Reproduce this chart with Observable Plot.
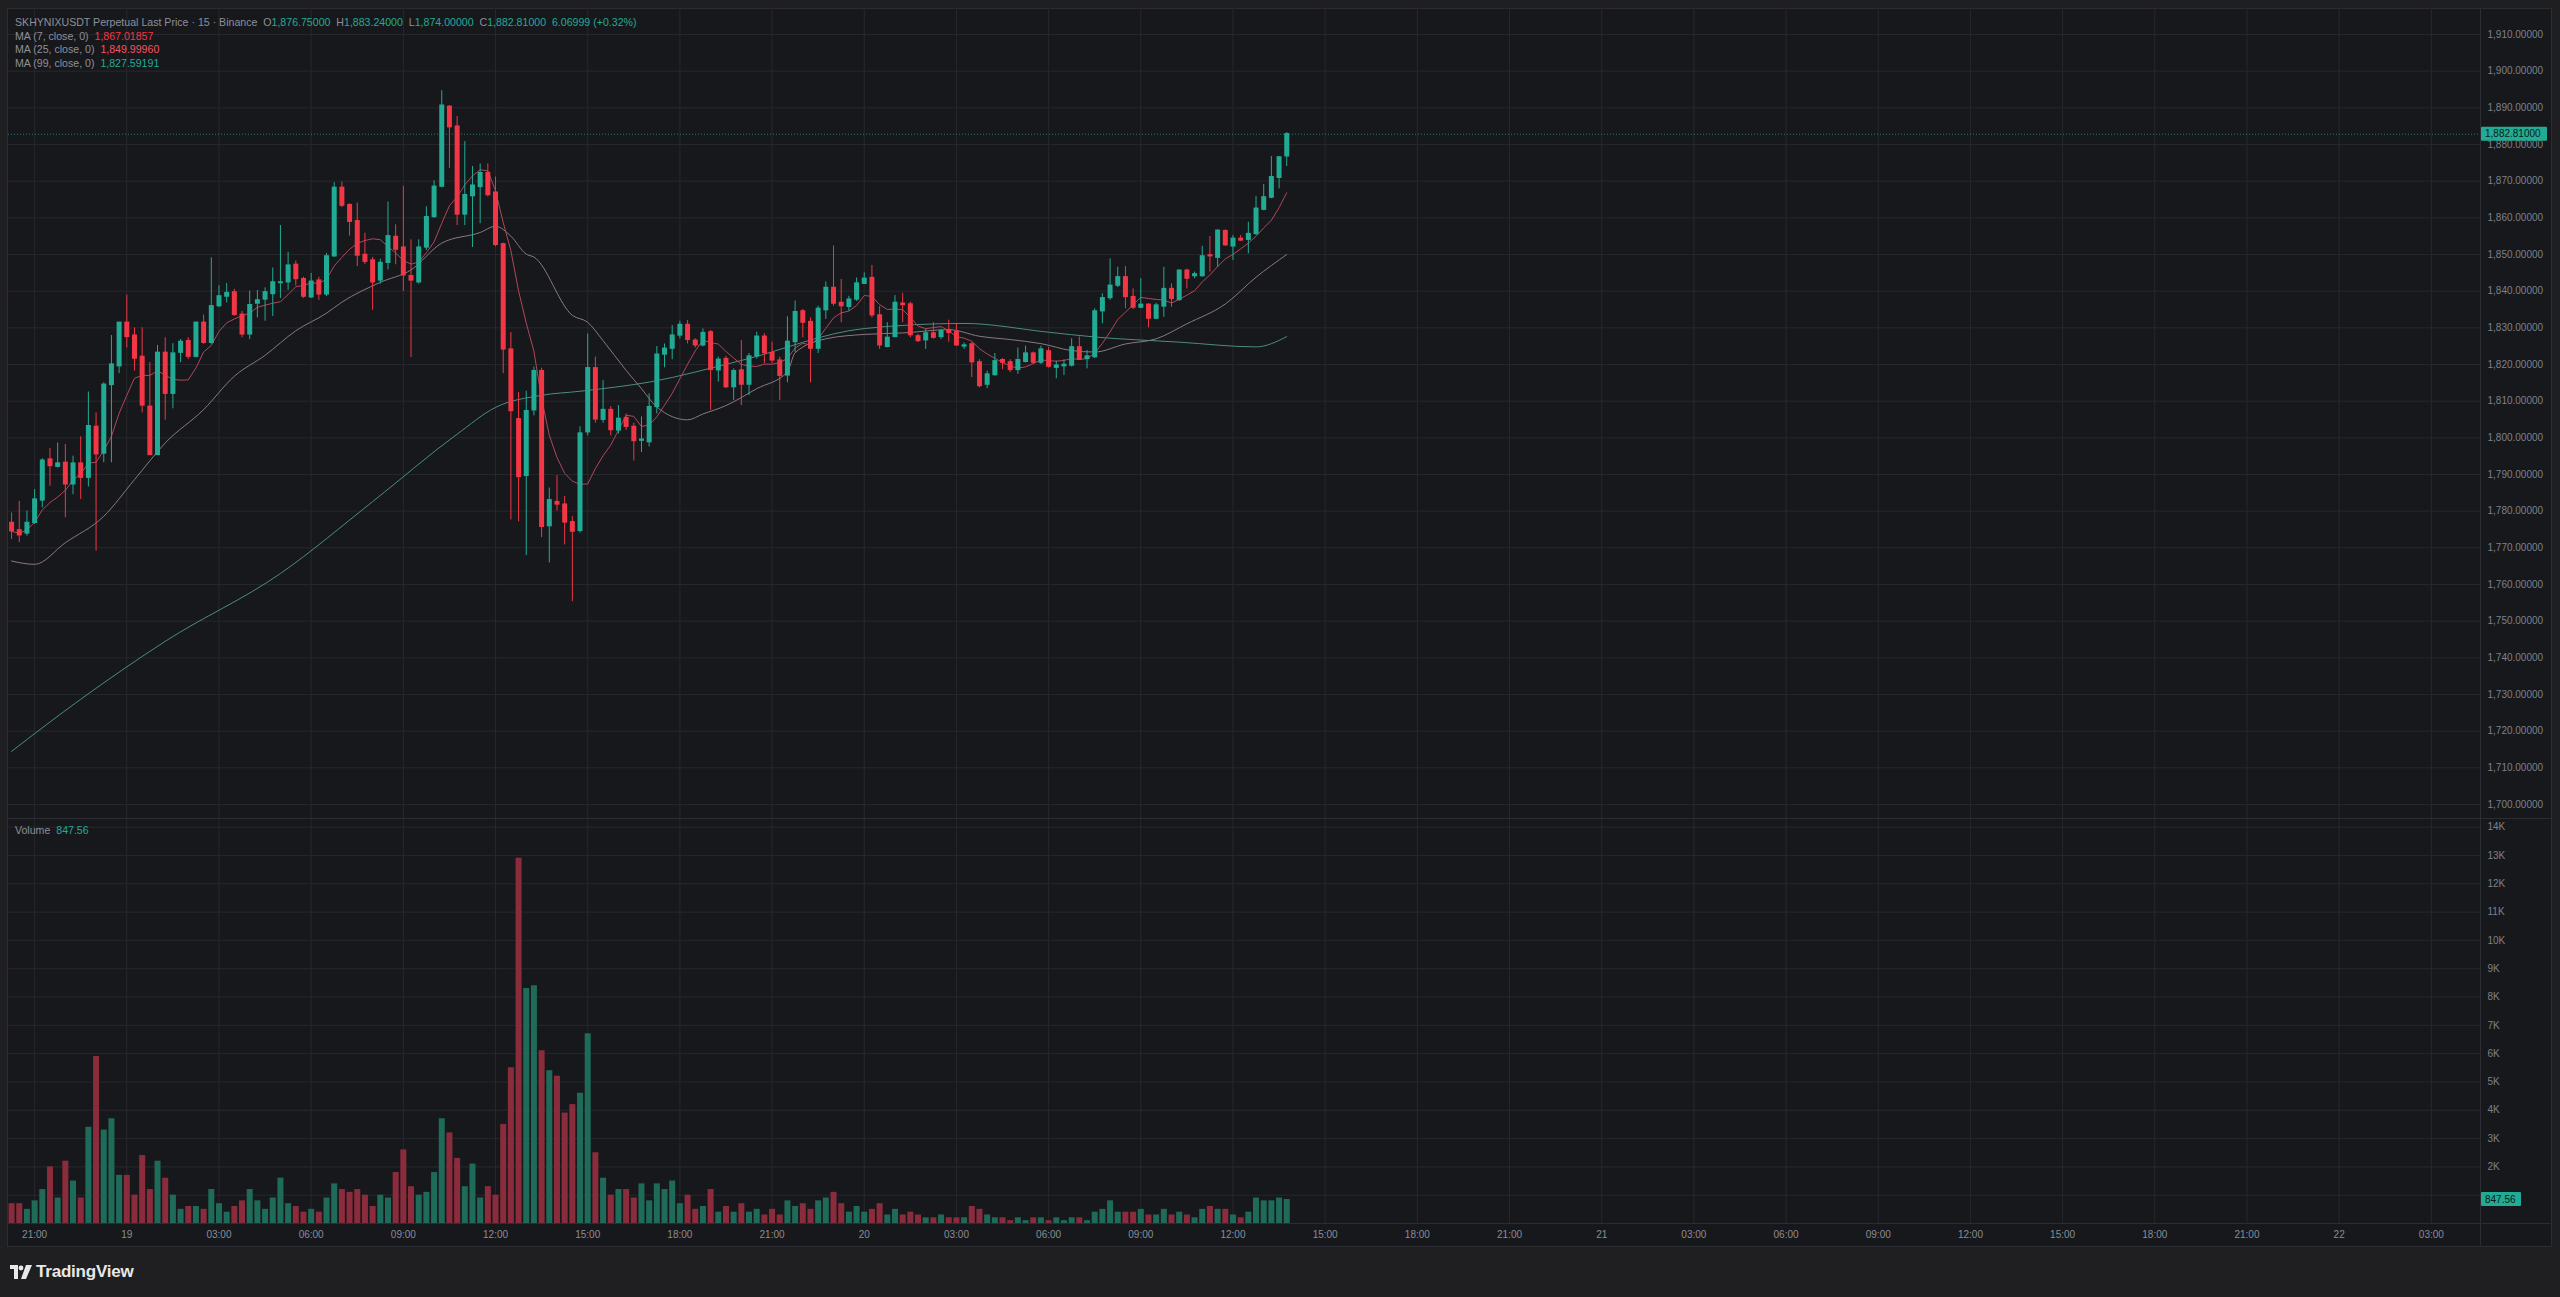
<!DOCTYPE html>
<html><head><meta charset="utf-8">
<script src="https://cdn.jsdelivr.net/npm/d3@7"></script>
<script src="https://cdn.jsdelivr.net/npm/@observablehq/plot@0.6"></script>
<style>
html,body{margin:0;padding:0;background:#1f1f21;width:2560px;height:1297px;overflow:hidden;font-family:"Liberation Sans",Arial,sans-serif;}
#frame{position:absolute;left:7px;top:8px;width:2545px;height:1239px;background:#17181c;box-sizing:border-box;border:1px solid #2c2d32;}
.hl{position:absolute;height:1px;background:#2c2d32;}
.vl{position:absolute;width:1px;background:#2c2d32;}
#price{position:absolute;left:8px;top:8px;}
#vol{position:absolute;left:8px;top:818px;}
.legend{position:absolute;left:15px;font-size:10.6px;color:#8d9099;white-space:pre;line-height:13.7px;}
.g{color:#22ab94}.r{color:#f23645}.p{color:#f7525f}
#logo{position:absolute;left:10px;top:1262px;display:flex;align-items:center;color:#e8e8ea;font-size:17px;font-weight:bold;letter-spacing:-0.2px}
</style></head><body>
<div id="frame"></div>
<div id="price"></div>
<div id="vol"></div>
<div class="hl" style="left:7px;top:818px;width:2545px"></div>
<div class="hl" style="left:7px;top:1223px;width:2545px"></div>
<div class="vl" style="left:2480px;top:8px;height:1239px"></div>
<div class="legend" style="top:16px">SKHYNIXUSDT Perpetual Last Price · 15 · Binance  O<span class="g">1,876.75000</span>  H<span class="g">1,883.24000</span>  L<span class="g">1,874.00000</span>  C<span class="g">1,882.81000</span>  <span class="g">6.06999 (+0.32%)</span>
MA (7, close, 0)  <span class="r">1,867.01857</span>
MA (25, close, 0)  <span class="p">1,849.99960</span>
MA (99, close, 0)  <span class="g">1,827.59191</span></div>
<div class="legend" style="top:824px">Volume  <span class="g">847.56</span></div>
<div id="logo"><svg width="22" height="14" viewBox="0 0 22 14"><path d="M0 0h8v14H4V4H0z" fill="#e8e8ea"/><circle cx="11" cy="3" r="2.4" fill="#e8e8ea"/><path d="M16 0h6l-6 14h-5z" fill="#e8e8ea"/></svg><span style="margin-left:4px">TradingView</span></div>
<script>
// ---- data (15-minute bars starting 18th 20:15) ----
const barStartYear = 2025, barStartMonth = 0, barStartDay = 18, barStartHour = 20, barStartMinute = 15;
const barMinutes = 15;
const open = [1776.8,1774.8,1773.9,1776.8,1782.9,1794.1,1792.1,1793.2,1787.3,1793.0,1789.1,1803.0,1795.7,1814.4,1819.5,1831.4,1827.9,1822.1,1808.5,1795.3,1823.2,1812.0,1823.2,1826.4,1822.1,1831.4,1825.9,1835.9,1838.5,1839.7,1833.6,1828.2,1836.6,1837.7,1839.2,1842.2,1842.4,1847.2,1843.3,1838.3,1842.9,1839.1,1849.5,1868.2,1863.5,1859.1,1849.9,1848.4,1842.9,1847.7,1854.8,1851.9,1844.1,1842.4,1851.9,1860.2,1868.5,1890.3,1884.9,1860.9,1865.9,1868.4,1872.2,1866.9,1852.8,1824.1,1805.1,1789.6,1807.5,1818.2,1775.9,1782.5,1781.8,1777.0,1774.6,1801.5,1819.0,1804.9,1807.6,1802.0,1805.4,1803.0,1799.2,1798.8,1808.4,1822.7,1824.3,1827.9,1830.8,1826.5,1825.2,1828.8,1818.4,1821.5,1813.8,1818.4,1814.5,1822.2,1827.6,1823.1,1821.1,1817.0,1826.1,1834.5,1831.6,1824.3,1834.8,1840.9,1836.8,1835.7,1837.7,1842.0,1843.6,1833.4,1824.8,1827.5,1836.6,1836.4,1827.7,1826.6,1828.5,1827.5,1829.4,1828.9,1824.9,1825.5,1820.6,1814.5,1817.1,1821.2,1820.6,1818.5,1820.7,1823.0,1820.5,1823.6,1819.1,1819.5,1819.7,1824.7,1821.5,1822.0,1834.5,1838.1,1841.5,1843.8,1838.4,1835.5,1836.3,1832.5,1835.8,1840.6,1837.6,1845.6,1844.1,1844.1,1849.8,1849.1,1856.4,1852.2,1854.3,1854.0,1855.6,1862.2,1865.5,1870.9,1876.75];
const high = [1779.5,1782.7,1780.0,1785.9,1794.3,1797.1,1798.6,1798.2,1795.0,1800.3,1812.5,1806.8,1815.0,1827.9,1831.5,1838.9,1830.0,1830.0,1820.5,1825.2,1827.3,1825.7,1826.8,1827.3,1831.6,1833.5,1849.1,1841.5,1842.1,1840.5,1834.5,1840.0,1840.2,1840.9,1846.3,1857.9,1850.6,1848.2,1843.8,1844.8,1843.8,1850.3,1869.6,1869.8,1863.8,1864.0,1855.8,1849.2,1848.7,1864.3,1858.1,1868.6,1854.0,1854.0,1863.0,1870.1,1894.7,1890.6,1887.6,1880.8,1874.0,1874.7,1874.7,1871.1,1853.1,1828.7,1812.4,1812.7,1819.3,1819.0,1786.3,1789.7,1784.0,1778.5,1803.0,1828.3,1822.0,1815.6,1808.5,1808.8,1806.5,1804.0,1805.7,1812.0,1824.9,1825.6,1830.6,1831.8,1832.0,1827.0,1829.7,1829.3,1822.0,1822.2,1818.8,1826.5,1823.0,1828.8,1828.4,1826.1,1822.0,1833.0,1837.3,1835.0,1832.7,1835.9,1842.5,1852.3,1843.2,1838.6,1843.6,1845.0,1847.0,1835.8,1831.4,1838.8,1839.4,1837.0,1828.2,1829.6,1831.4,1829.6,1832.1,1830.9,1825.9,1826.0,1821.3,1818.2,1823.0,1821.6,1821.3,1824.5,1825.0,1823.4,1825.0,1824.7,1820.9,1821.3,1827.0,1827.5,1823.8,1835.2,1839.3,1848.8,1846.5,1846.7,1840.6,1843.4,1836.6,1836.7,1846.5,1842.0,1845.8,1846.0,1845.2,1852.2,1854.9,1856.7,1856.7,1855.2,1855.2,1858.8,1865.8,1869.1,1876.7,1876.7,1883.24];
const low = [1772.3,1771.4,1773.2,1776.4,1780.9,1786.8,1791.8,1778.2,1784.5,1783.2,1786.6,1769.1,1793.2,1793.2,1817.5,1824.5,1818.2,1806.8,1795.2,1795.2,1804.8,1807.9,1820.5,1821.4,1821.8,1825.5,1825.5,1835.5,1836.8,1833.2,1827.3,1826.8,1832.7,1831.8,1833.1,1838.0,1840.2,1841.4,1838.0,1838.0,1837.5,1838.5,1849.2,1862.8,1855.0,1846.7,1847.2,1834.8,1841.9,1845.8,1847.2,1839.9,1821.9,1841.9,1851.1,1859.9,1868.2,1873.5,1857.9,1857.9,1851.9,1858.4,1865.7,1852.1,1817.5,1777.6,1777.1,1767.9,1806.0,1772.8,1765.9,1780.0,1770.8,1755.3,1774.0,1800.5,1804.0,1804.0,1800.5,1801.0,1802.0,1793.7,1796.0,1797.5,1806.5,1819.1,1821.3,1827.0,1825.6,1824.5,1824.8,1807.5,1815.2,1813.4,1810.2,1808.8,1811.5,1821.5,1820.2,1820.2,1810.2,1815.0,1823.2,1827.3,1815.0,1823.0,1832.3,1835.9,1831.4,1834.5,1837.2,1841.8,1832.7,1824.1,1824.5,1827.3,1831.4,1827.3,1826.0,1824.1,1826.9,1826.8,1826.1,1824.9,1824.1,1816.4,1813.6,1813.4,1816.8,1818.6,1817.8,1817.3,1820.4,1820.0,1820.0,1819.0,1816.1,1817.0,1819.3,1821.1,1818.8,1821.6,1831.1,1837.5,1841.0,1835.2,1835.0,1835.2,1830.0,1832.2,1832.9,1835.6,1837.2,1840.6,1843.4,1843.8,1845.2,1846.5,1852.2,1848.4,1853.6,1850.2,1855.2,1861.9,1865.2,1867.9,1874.0];
const close = [1774.5,1773.4,1776.8,1783.2,1793.8,1792.3,1793.0,1787.3,1793.0,1789.1,1803.2,1795.5,1814.5,1820.0,1831.4,1827.5,1821.6,1808.8,1795.3,1823.2,1812.0,1823.0,1826.2,1822.1,1831.4,1825.9,1835.9,1838.6,1839.5,1833.5,1828.2,1836.2,1837.5,1839.7,1842.4,1842.4,1847.0,1843.3,1838.5,1842.6,1839.1,1849.5,1868.2,1863.3,1858.9,1849.7,1848.0,1842.4,1847.7,1855.0,1851.3,1844.3,1842.9,1851.9,1860.2,1868.5,1890.6,1884.7,1860.9,1866.2,1868.8,1872.2,1866.2,1852.6,1824.1,1807.3,1789.3,1807.3,1818.2,1775.7,1783.0,1781.8,1776.9,1774.4,1801.2,1819.0,1805.0,1807.6,1802.1,1805.2,1803.0,1799.1,1799.5,1808.4,1822.7,1824.3,1827.9,1830.8,1826.7,1825.2,1828.6,1818.5,1821.3,1813.8,1818.2,1814.5,1822.2,1827.6,1823.1,1821.1,1816.9,1826.2,1834.3,1831.4,1824.3,1835.2,1840.9,1836.6,1835.9,1837.7,1842.1,1843.4,1833.4,1825.2,1827.3,1836.8,1836.2,1828.0,1826.4,1828.5,1827.3,1829.1,1828.6,1825.2,1825.2,1820.6,1814.1,1817.3,1820.9,1820.5,1818.5,1821.2,1823.0,1820.5,1824.1,1819.4,1819.7,1819.9,1824.7,1821.3,1822.2,1834.5,1838.1,1841.5,1843.8,1838.4,1835.5,1836.3,1832.5,1836.1,1840.6,1837.9,1845.6,1843.4,1844.6,1849.5,1849.5,1856.5,1852.5,1854.3,1853.8,1855.6,1862.5,1865.6,1871.1,1876.5,1882.81];
const volume = [700,700,500,800,1200,2000,900,2200,1500,900,3400,5900,3300,3700,1700,1700,1000,2400,1200,2200,1600,1000,500,600,600,500,1200,700,400,600,800,1200,800,500,900,1600,700,600,400,500,400,900,1400,1200,1100,1200,1000,600,1000,900,1800,2600,1300,1000,1100,1800,3700,3200,2300,1300,2100,900,1300,1000,3500,5500,12900,8300,8400,6100,5400,5200,3900,4200,4600,6700,2500,1600,1000,1200,1200,900,1400,800,1400,1200,1500,700,1000,500,600,1200,400,600,400,700,400,500,300,500,300,800,600,700,500,800,900,1100,700,400,600,400,500,700,300,500,300,400,300,200,200,300,200,200,200,600,500,300,200,200,100,200,100,200,200,100,200,100,200,200,100,400,500,800,400,400,400,500,300,300,500,300,400,300,200,500,600,500,500,300,200,400,900,800,800,900,847.56];
// Moving averages (bar index -> value)
const ma25Idx = [0,3,7,12,16,20,25,29,33,37,41,43,48,52,56,61,63,65,67,68,73,75,77,80,82,84,88,90,93,97,101,102,106,111,116,122,126,130,134,138,141,145,149,153,158,162,166];
const ma25Val = [1766.4,1765.5,1771.4,1778.6,1788.6,1798.6,1807.7,1816.8,1822.5,1829.2,1834.0,1837.0,1842.4,1845.8,1853.1,1856.0,1857.7,1855.0,1850.1,1849.3,1833.4,1831.5,1826.5,1818.4,1813.4,1808.4,1804.9,1806.5,1808.8,1813.4,1818.0,1823.2,1827.0,1828.2,1828.6,1829.5,1827.7,1826.8,1825.7,1823.8,1823.4,1825.6,1827.0,1831.1,1836.5,1843.8,1850.0];
const ma99Idx = [0,9,20,35,47,58,63,69,74,83,95,111,124,135,141,152,162,166];
const ma99Val = [1714.5,1728.7,1744.5,1763.0,1782.6,1801.0,1808.3,1811.6,1812.7,1815.2,1821.1,1829.8,1831.2,1828.8,1827.5,1826.1,1824.8,1827.6];
// axes
const priceTicks = d3.range(1700, 1911, 10);
const volGridTicks = d3.range(1000, 14001, 1000);
const volLabelTicks = d3.range(2000, 14001, 1000); // the 1K label sits behind the last-volume badge
const xDomain = [new Date(2025,0,18,20,9), new Date(2025,0,22,4,36)];
const priceDomain = [1696.18, 1917.09];
const volDomain = [0, 14306];
const lastClose = close[close.length-1];
const lastVolume = volume[volume.length-1];

// ---- build ----
const green = "#22ab94", red = "#f23645";
const volGreen = "#1f6b5a", volRed = "#8b2c3d";
const gridC = "#27282d", axisC = "#7e818a";
const barStart = new Date(barStartYear, barStartMonth, barStartDay, barStartHour, barStartMinute);
const tOf = i => new Date(+barStart + i * barMinutes * 60000);
const bars = close.map((c, i) => ({t: tOf(i), o: open[i], h: high[i], l: low[i], c, v: volume[i], up: c >= open[i]}));
const ma25 = ma25Idx.map((k, j) => ({t: tOf(k), v: ma25Val[j]}));
const ma99 = ma99Idx.map((k, j) => ({t: tOf(k), v: ma99Val[j]}));
const xTicks = d3.timeHour.every(3).range(xDomain[0], xDomain[1]);
const xFmt = d => d.getHours() === 0 ? String(d.getDate()) : d3.timeFormat("%H:%M")(d);
const style = {background: "transparent", color: axisC, fontFamily: "'Liberation Sans', Arial, sans-serif", fontSize: "10px", overflow: "visible"};

const priceChart = Plot.plot({
  width: 2543, height: 810, marginTop: 0, marginBottom: 0, marginLeft: 0, marginRight: 71,
  style, color: {type: "identity"},
  x: {type: "time", domain: xDomain, axis: null},
  y: {domain: priceDomain, label: null},
  marks: [
    Plot.gridX(xTicks, {stroke: gridC, strokeOpacity: 1}),
    Plot.gridY(priceTicks, {stroke: gridC, strokeOpacity: 1}),
    Plot.axisY(priceTicks, {anchor: "right", label: null, tickSize: 0, tickPadding: 7, tickFormat: d3.format(",.5f"), fill: axisC}),
    Plot.ruleY([lastClose], {stroke: green, strokeOpacity: 0.7, strokeDasharray: "1,2"}),
    Plot.line(ma99, {x: "t", y: "v", stroke: "#4b8c80", strokeWidth: 1, curve: "monotone-x"}),
    Plot.line(ma25, {x: "t", y: "v", stroke: "#8a7882", strokeWidth: 1, curve: "monotone-x"}),
    Plot.line(bars, Plot.windowY({k: 7, anchor: "end"}, {x: "t", y: "c", stroke: "#b0475a", strokeWidth: 1})),
    Plot.ruleX(bars, {x: "t", y1: "l", y2: "h", stroke: d => d.up ? green : red, strokeWidth: 1}),
    Plot.ruleX(bars, {x: "t", y1: d => Math.max(d.o, d.c), y2: d => Math.min(d.o, d.c), stroke: d => d.up ? green : red, strokeWidth: 5, insetTop: -0.6, insetBottom: -0.6})
  ]
});
document.getElementById("price").appendChild(priceChart);

const volChart = Plot.plot({
  width: 2543, height: 428, marginTop: 0, marginBottom: 23, marginLeft: 0, marginRight: 71,
  style, color: {type: "identity"},
  x: {type: "time", domain: xDomain, label: null},
  y: {domain: volDomain, label: null},
  marks: [
    Plot.gridX(xTicks, {stroke: gridC, strokeOpacity: 1}),
    Plot.gridY(volGridTicks, {stroke: gridC, strokeOpacity: 1}),
    Plot.axisY(volLabelTicks, {anchor: "right", label: null, tickSize: 0, tickPadding: 7, tickFormat: d => d / 1000 + "K", fill: axisC}),
    Plot.axisX(xTicks, {anchor: "bottom", label: null, tickSize: 0, tickPadding: 7, tickFormat: xFmt, fill: "#8a8d96"}),
    Plot.ruleX(bars, {x: "t", y1: 0, y2: "v", stroke: d => d.up ? volGreen : volRed, strokeWidth: 6})
  ]
});
document.getElementById("vol").appendChild(volChart);

// price labels on the axis, positioned through the library's scales
function axisBadge(chart, value, text, w) {
  const y = chart.scale("y").apply(value);
  const svg = d3.select(chart);
  svg.append("rect").attr("x", 2473).attr("y", y - 7).attr("width", w).attr("height", 14).attr("fill", green).attr("rx", 1);
  svg.append("text").attr("x", 2473 + 4).attr("y", y).attr("dy", "0.35em").attr("text-anchor", "start").attr("fill", "#0e1a17")
    .attr("font-size", 10).attr("font-family", "'Liberation Sans', Arial, sans-serif").text(text);
}
axisBadge(priceChart, lastClose, d3.format(",.5f")(lastClose), 66);
axisBadge(volChart, lastVolume, d3.format(".2f")(lastVolume), 40);
</script>
</body></html>
